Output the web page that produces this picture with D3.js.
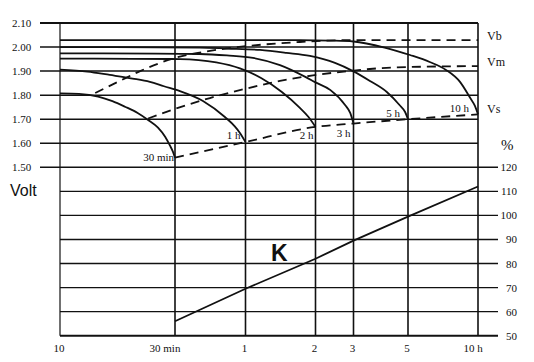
<!DOCTYPE html>
<html>
<head>
<meta charset="utf-8">
<script src="https://cdn.jsdelivr.net/npm/d3@7"></script>
<style>
  html, body { margin: 0; padding: 0; background: #fff; }
  svg { display: block; }
  .serif { font-family: "Liberation Serif", "Times New Roman", serif; fill: #111; }
</style>
</head>
<body>
<div id="chart"></div>
<script>
// Entladekurven: Zeit in Minuten (log), Spannung in Volt / Zelle, K in %.
const timeTicks = [10, 30, 60, 120, 180, 300, 600];
const timeLabels = ['10', '30 min', '1', '2', '3', '5', '10 h'];
const voltTicks = [2.10, 2.00, 1.90, 1.80, 1.70, 1.60, 1.50];
const pctTicks = [120, 110, 100, 90, 80, 70, 60, 50];

const curveNames = ['30 min', '1 h', '2 h', '3 h', '5 h', '10 h'];
const curve30min = [[10, 1.807], [12, 1.805], [14.4, 1.794], [16.5, 1.775], [18.6, 1.752], [21, 1.726], [23.2, 1.697], [25.5, 1.665], [27.3, 1.627], [28.6, 1.59], [29.4, 1.565], [30, 1.54]];
const curve1h = [[10, 1.906], [13, 1.898], [16.1, 1.884], [20, 1.869], [23.6, 1.855], [27, 1.837], [31.5, 1.817], [39.5, 1.776], [49, 1.709], [54, 1.67], [56.8, 1.643], [60, 1.605]];
const curve2h = [[10, 1.952], [20, 1.951], [31.5, 1.95], [45, 1.936], [56.8, 1.911], [70, 1.871], [86, 1.813], [102.8, 1.747], [112, 1.709], [120, 1.668]];
const curve3h = [[10, 1.974], [25, 1.973], [38.2, 1.971], [50, 1.965], [64.6, 1.955], [84.4, 1.925], [109, 1.875], [120, 1.853], [140.8, 1.821], [164.5, 1.759], [174, 1.725], [180, 1.682]];
const curve5h = [[10, 2.0], [38.2, 1.998], [50, 1.994], [69.3, 1.988], [90, 1.976], [113.6, 1.963], [147.7, 1.934], [179, 1.9], [210, 1.859], [246, 1.813], [277, 1.759], [292, 1.73], [300, 1.70]];
const curve10h = [[10, 2.029], [60, 2.029], [102.8, 2.029], [140, 2.027], [180, 2.023], [241, 1.998], [306, 1.967], [372, 1.938], [437, 1.905], [502, 1.855], [554, 1.79], [582, 1.755], [600, 1.72]];
const dischargeCurves = [curve30min, curve1h, curve2h, curve3h, curve5h, curve10h];

const envelopeNames = ['Vb', 'Vm', 'Vs'];
const vb = [[14, 1.809], [17.7, 1.859], [21.5, 1.9], [29.4, 1.952], [42.3, 1.984], [60.9, 2.004], [102.8, 2.021], [180, 2.029], [600, 2.029]];
const vm = [[23.2, 1.703], [29.4, 1.74], [42.3, 1.788], [60.9, 1.828], [84.4, 1.859], [117, 1.882], [179, 1.902], [261, 1.915], [600, 1.921]];
const vs = [[30, 1.54], [60, 1.605], [120, 1.668], [180, 1.682], [300, 1.70], [600, 1.72]];
const envelopes = [vb, vm, vs];

const kLine = [[30, 56], [60, 69.5], [120, 82], [180, 89.5], [300, 99.5], [600, 112]];

(function () {
  const width = 534, height = 362;
  const svg = d3.select('#chart').append('svg').attr('width', width).attr('height', height);

  // Achsen: die Zeitachse ist logarithmisch (stückweise an die Gitterlinien angepasst)
  const x = d3.scaleLog().domain(timeTicks).range([60, 175, 245.5, 315.5, 353.5, 408, 478]);
  const yV = d3.scaleLinear().domain([1.5, 2.1]).range([167.3, 23]);
  const yP = d3.scaleLinear().domain([50, 120]).range([335.7, 167.3]);
  const left = x(10), right = x(600);

  // Spannungs-Gitter
  svg.append('g').selectAll('line').data(voltTicks).join('line')
    .attr('x1', 40).attr('x2', d => d === 1.5 ? 498 : right)
    .attr('y1', d => yV(d)).attr('y2', d => yV(d))
    .attr('stroke', '#111').attr('stroke-width', d => d === 2.1 ? 2 : 1.5);
  svg.append('g').selectAll('text').data(voltTicks).join('text')
    .attr('class', 'serif').attr('x', 12).attr('y', d => yV(d) + 4)
    .style('font-size', '11px').text(d => d.toFixed(2));

  // Prozent-Gitter (rechte Achse)
  svg.append('g').selectAll('line').data(pctTicks.filter(d => d < 120)).join('line')
    .attr('x1', left).attr('x2', 498)
    .attr('y1', d => yP(d)).attr('y2', d => yP(d))
    .attr('stroke', '#111').attr('stroke-width', d => d === 50 ? 2 : 1.4);
  svg.append('g').selectAll('text').data(pctTicks).join('text')
    .attr('class', 'serif').attr('x', 517).attr('y', d => yP(d) + 4)
    .attr('text-anchor', 'end').style('font-size', '11px').text(d => d);
  svg.append('text').attr('class', 'serif').attr('x', 501).attr('y', 150)
    .style('font-size', '15px').text('%');

  // vertikale Zeitlinien
  svg.append('g').selectAll('line').data(timeTicks).join('line')
    .attr('x1', d => x(d)).attr('x2', d => x(d))
    .attr('y1', yV(2.1)).attr('y2', yP(50))
    .attr('stroke', '#111').attr('stroke-width', (d, i) => i === 0 ? 1.2 : 1.6);
  const labelShift = { '10': 0, '30 min': -9, '10 h': -4 };
  svg.append('g').selectAll('text').data(timeTicks).join('text')
    .attr('class', 'serif')
    .attr('x', (d, i) => x(d) - 1 + (labelShift[timeLabels[i]] || 0))
    .attr('y', 352).attr('text-anchor', 'middle').style('font-size', '11px')
    .text((d, i) => timeLabels[i]);

  // Entladekurven
  const lineV = d3.line().x(d => x(d[0])).y(d => yV(d[1])).curve(d3.curveMonotoneX);
  svg.append('g').selectAll('path').data(dischargeCurves).join('path')
    .attr('d', lineV).attr('fill', 'none').attr('stroke', '#111').attr('stroke-width', 1.8);

  // Grenzkurven Vb / Vm / Vs
  svg.append('g').selectAll('path').data(envelopes).join('path')
    .attr('d', lineV).attr('fill', 'none').attr('stroke', '#111')
    .attr('stroke-width', 1.8).attr('stroke-dasharray', '9,6');
  svg.append('g').selectAll('text').data(envelopes).join('text')
    .attr('class', 'serif').attr('x', 487)
    .attr('y', (d, i) => yV(d[d.length - 1][1]) + (i === 2 ? -1 : 0))
    .style('font-size', '12px').text((d, i) => envelopeNames[i]);

  // Kurvenbeschriftungen am Endpunkt
  const tagOffset = [[-1, 3], [-5, -3], [-2, 12], [-3, 13], [-8, -2], [-9, -2]];
  svg.append('g').selectAll('text').data(dischargeCurves).join('text')
    .attr('class', 'serif').attr('text-anchor', 'end')
    .attr('x', (d, i) => x(d[d.length - 1][0]) + tagOffset[i][0])
    .attr('y', (d, i) => yV(d[d.length - 1][1]) + tagOffset[i][1])
    .style('font-size', '11px').text((d, i) => curveNames[i]);

  // Kapazitätsfaktor K
  const lineP = d3.line().x(d => x(d[0])).y(d => yP(d[1]));
  svg.append('path').datum(kLine).attr('d', lineP)
    .attr('fill', 'none').attr('stroke', '#111').attr('stroke-width', 1.8);
  svg.append('text').attr('x', 271).attr('y', 261)
    .style('font-family', '"Liberation Sans", Arial, sans-serif').style('font-weight', 'bold')
    .style('font-size', '23px').attr('fill', '#111').text('K');

  svg.append('text').attr('x', 10).attr('y', 196)
    .style('font-family', '"Liberation Sans", Arial, sans-serif')
    .style('font-size', '16px').attr('fill', '#111').text('Volt');
})();
</script>
</body>
</html>
